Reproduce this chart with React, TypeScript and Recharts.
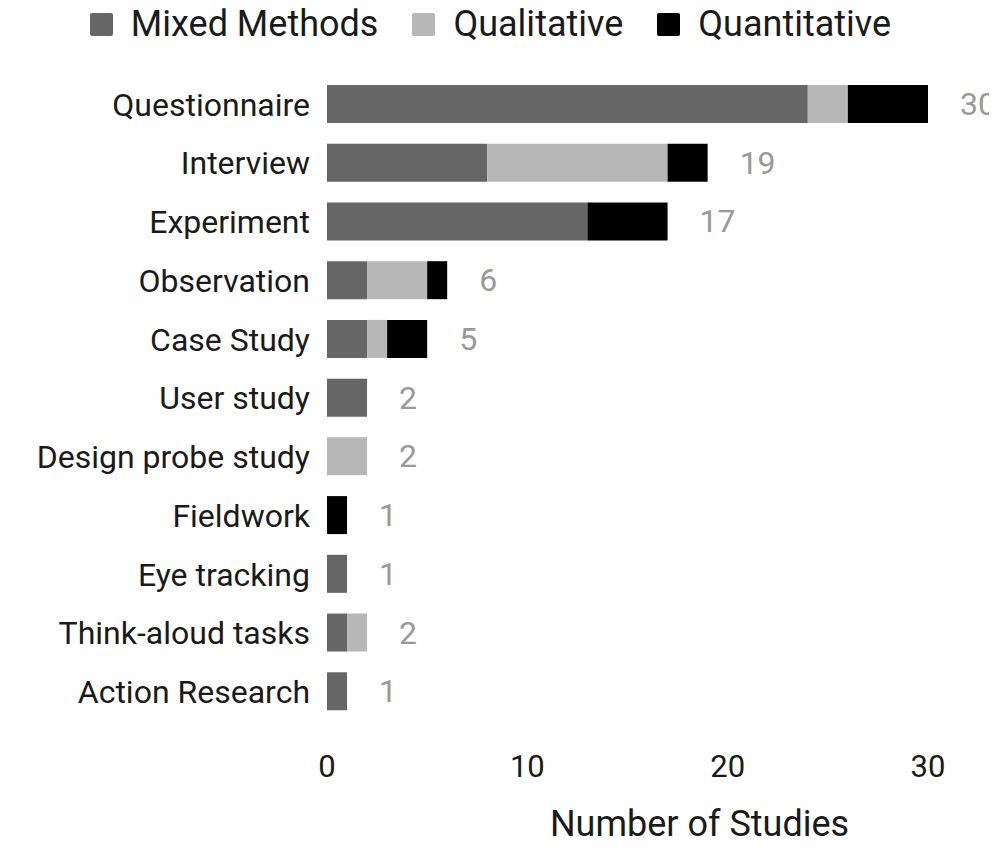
import { BarChart, Bar, XAxis, YAxis, Legend, LabelList } from 'recharts';

const categories = [
  'Questionnaire',
  'Interview',
  'Experiment',
  'Observation',
  'Case Study',
  'User study',
  'Design probe study',
  'Fieldwork',
  'Eye tracking',
  'Think-aloud tasks',
  'Action Research',
];
const mixedMethods = [24, 8, 13, 2, 2, 2, 0, 0, 1, 1, 1];
const qualitative = [2, 9, 0, 3, 1, 0, 2, 0, 0, 1, 0];
const quantitative = [4, 2, 4, 1, 2, 0, 0, 1, 0, 0, 0];
const xTicks = [0, 10, 20, 30];

const seriesInfo = [
  { key: 'mixed', name: 'Mixed Methods', color: '#666666' },
  { key: 'qual', name: 'Qualitative', color: '#b7b7b7' },
  { key: 'quant', name: 'Quantitative', color: '#000000' },
];

const data = categories.map((name, i) => ({
  name,
  mixed: mixedMethods[i],
  qual: qualitative[i],
  quant: quantitative[i],
  cap: 0,
  total: mixedMethods[i] + qualitative[i] + quantitative[i],
}));

const FONT = 'Roboto, "Noto Sans", sans-serif';

const LegendContent = () => (
  <div
    style={{
      display: 'flex',
      justifyContent: 'center',
      alignItems: 'center',
      height: 32,
      fontFamily: FONT,
      fontSize: 36,
      color: '#1a1a1a',
      transform: 'translateX(-16px)',
    }}
  >
    {seriesInfo.map((s, i) => (
      <div
        key={s.key}
        style={{ display: 'flex', alignItems: 'center', marginRight: i < seriesInfo.length - 1 ? 34 : 0 }}
      >
        <div
          style={{ width: 23, height: 23, background: s.color, borderRadius: 2, marginRight: 18 }}
        />
        <span>{s.name}</span>
      </div>
    ))}
  </div>
);

// total shown to the right of each stacked bar
const TotalLabel = (props: any) => {
  const { x, y, width, height, value } = props;
  return (
    <text
      x={x + width + 31}
      y={y + height / 2}
      dominantBaseline="central"
      fill="#999999"
      fontSize={32}
      fontFamily={FONT}
    >
      {value}
    </text>
  );
};

export default function App() {
  return (
    <div style={{ width: 981, height: 841 }}>
      <style>{'html, body { overflow: hidden; } .recharts-surface { overflow: visible; }'}</style>
      <BarChart
        width={997}
        height={841}
        data={data}
        layout="vertical"
        margin={{ top: 0, right: 77, bottom: 0, left: 0 }}
        barSize={38}
        style={{ fontFamily: FONT }}
      >
        <Legend
          verticalAlign="top"
          height={67}
          wrapperStyle={{ left: 0, width: 997 }}
          content={<LegendContent />}
        />
        <XAxis
          type="number"
          domain={[0, 30]}
          ticks={xTicks}
          axisLine={false}
          tickLine={false}
          tickMargin={28}
          height={128}
          tick={{ fill: '#1a1a1a', fontSize: 31, fontFamily: FONT }}
          label={{
            value: 'Number of Studies',
            position: 'insideBottom',
            offset: 13,
            dx: 72,
            fill: '#1a1a1a',
            fontSize: 36,
            fontFamily: FONT,
          }}
        />
        <YAxis
          type="category"
          dataKey="name"
          width={319}
          axisLine={false}
          tickLine={false}
          tickMargin={11}
          interval={0}
          tick={{ fill: '#1a1a1a', fontSize: 32, fontFamily: FONT }}
        />
        <Bar dataKey="mixed" name="Mixed Methods" stackId="a" fill="#666666" isAnimationActive={false} />
        <Bar dataKey="qual" name="Qualitative" stackId="a" fill="#b7b7b7" isAnimationActive={false} />
        <Bar dataKey="quant" name="Quantitative" stackId="a" fill="#000000" isAnimationActive={false} />
        <Bar
          dataKey="cap"
          stackId="a"
          fill="transparent"
          minPointSize={1}
          legendType="none"
          isAnimationActive={false}
        >
          <LabelList dataKey="total" content={<TotalLabel />} />
        </Bar>
      </BarChart>
    </div>
  );
}
